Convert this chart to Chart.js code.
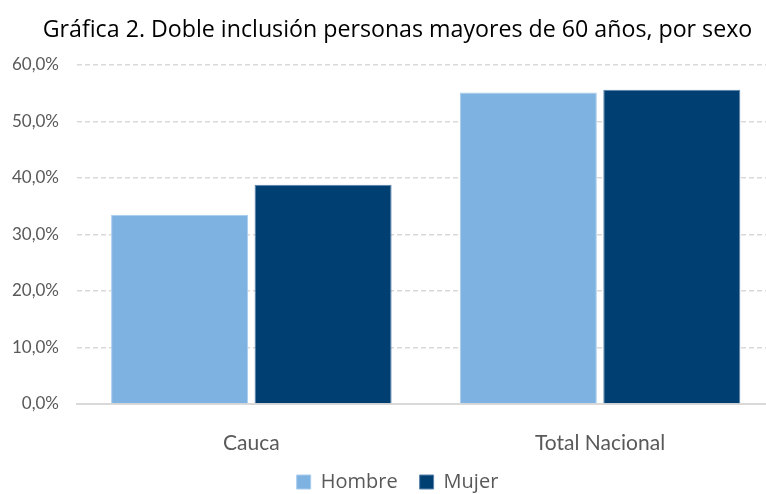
<!DOCTYPE html>
<html>
<head>
<meta charset="utf-8">
<script src="https://cdn.jsdelivr.net/npm/chart.js@4"></script>
<style>
	html, body { margin: 0; padding: 0; background: #fff; overflow: hidden; }
	#wrap { width: 795px; height: 502px; }
</style>
</head>
<body>
<div id="wrap"><canvas id="grafica_canvas"></canvas></div>
<script>
var categorias = ["Cauca", "Total Nacional"];
var hombre = [33.5, 55.1];
var mujer = [38.8, 55.6];
var y_ticks = [0, 10, 20, 30, 40, 50, 60];

var grafica_canvas = document.getElementById("grafica_canvas");
var grafica_chart = new Chart(grafica_canvas, {
	type: 'bar',
	data: {
		labels: categorias,
		datasets: [
			{
				label: "Hombre",
				backgroundColor: "#7eb2e0",
				borderColor: "#a9cdee",
				borderWidth: 1,
				data: hombre
			},
			{
				label: "Mujer",
				backgroundColor: "#003f72",
				borderColor: "#5a84ad",
				borderWidth: 1,
				data: mujer
			}
		]
	},
	options: {
		responsive: true,
		maintainAspectRatio: false,
		animation: false,
		devicePixelRatio: 1,
		layout: { padding: 0 },
		datasets: {
			bar: { categoryPercentage: 0.823, barPercentage: 0.955 }
		},
		plugins: {
			title: {
				display: true,
				text: "Gráfica 2. Doble inclusión personas mayores de 60 años, por sexo",
				color: "#000",
				font: { family: "'Open Sans'", size: 23.2, weight: 'normal' },
				padding: { top: 16, bottom: 21 }
			},
			legend: {
				position: 'bottom',
				labels: {
					color: "#595959",
					font: { family: "'Open Sans'", size: 20 },
					boxWidth: 14,
					boxHeight: 14,
					padding: 22
				}
			},
			tooltip: { enabled: false }
		},
		scales: {
			x: {
				afterFit: function(scale){ scale.height = 46; },
				grid: { display: false },
				border: { display: true, color: "#d9d9d9", width: 2 },
				ticks: {
					color: "#595959",
					font: { family: "Lato", size: 21 },
					padding: 19
				}
			},
			y: {
				min: 0,
				max: 60,
				afterFit: function(scale){ scale.width = 77; },
				afterBuildTicks: function(scale){
					scale.ticks = y_ticks.map(function(v){ return { value: v }; });
				},
				grid: {
					color: "#d9d9d9",
					lineWidth: 1.5,
					drawTicks: false
				},
				border: { display: false, dash: [5, 3] },
				ticks: {
					color: "#595959",
					font: { family: "Lato", size: 17 },
					padding: 18,
					callback: function(v){ return v.toFixed(1).replace(".", ",") + "%"; }
				}
			},
			// empty right axis: keeps the plot area wider than the visible window, as in the cropped original
			y2: {
				position: 'right',
				display: true,
				afterFit: function(scale){ scale.width = 20.6; },
				grid: { display: false },
				border: { display: false },
				ticks: { display: false }
			}
		}
	}
});
</script>
</body>
</html>
